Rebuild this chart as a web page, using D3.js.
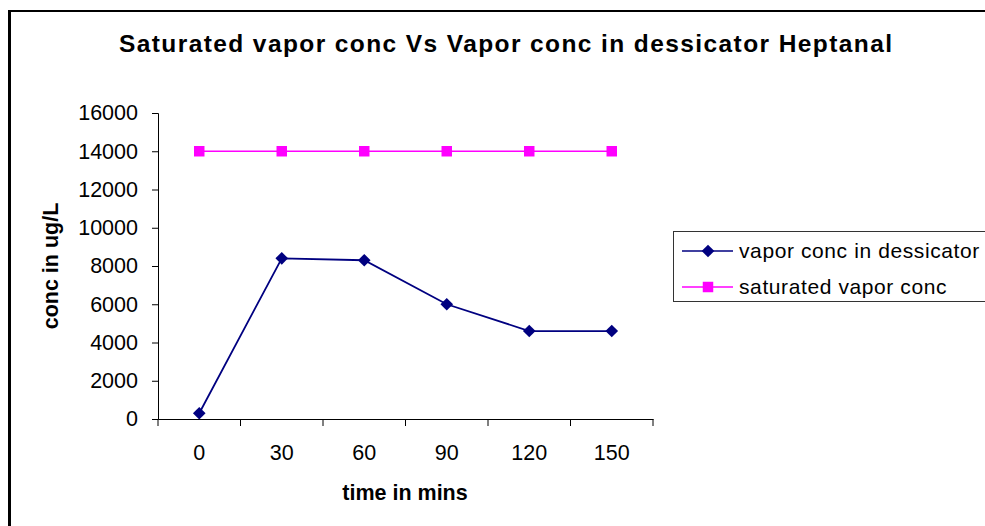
<!doctype html>
<html>
  <head>
    <meta charset="utf-8">
    <title>Saturated vapor conc Vs Vapor conc in dessicator Heptanal</title>
    <script src="https://cdnjs.cloudflare.com/ajax/libs/d3/7.8.5/d3.min.js"></script>
    <style>
      body { margin: 0; background: #fff; }
      svg { display: block; font-family: "Liberation Sans", Arial, sans-serif; }
    </style>
  </head>
  <body>
    <div id="chart"></div>
    <script>
      // data
      const times = ["0", "30", "60", "90", "120", "150"];
      const vaporConc = [300, 8400, 8300, 6000, 4600, 4600];
      const saturatedConc = [14000, 14000, 14000, 14000, 14000, 14000];
      const yTicks = [0, 2000, 4000, 6000, 8000, 10000, 12000, 14000, 16000];
      const seriesNames = ["vapor conc in dessicator", "saturated vapor conc"];

      const width = 985, height = 526;
      const svg = d3.select('#chart').append('svg')
        .attr('width', width)
        .attr('height', height);

      // outer frame (only left and top edges are inside the picture)
      svg.append('line')
        .attr('x1', 9.5).attr('x2', 9.5).attr('y1', 10).attr('y2', height)
        .attr('stroke', '#000').attr('stroke-width', 3);
      svg.append('line')
        .attr('x1', 8).attr('x2', width).attr('y1', 11).attr('y2', 11)
        .attr('stroke', '#000').attr('stroke-width', 2);

      const plot = { left: 158, right: 653, top: 113, bottom: 419 };

      const x = d3.scaleBand()
        .domain(times)
        .range([plot.left, plot.right]);

      const y = d3.scaleLinear()
        .domain([0, 16000])
        .range([plot.bottom, plot.top]);

      // title (Excel draws it a bit spread out)
      svg.append('text')
        .attr('x', 119).attr('y', 52)
        .attr('textLength', 773)
        .attr('lengthAdjust', 'spacing')
        .style('font-size', '24.5px')
        .style('font-weight', 'bold')
        .text('Saturated vapor conc Vs Vapor conc in dessicator Heptanal');

      // y axis
      const yAxis = svg.append('g')
        .attr('transform', `translate(${plot.left},0)`)
        .call(d3.axisLeft(y).tickValues(yTicks).tickSize(6).tickPadding(14).tickFormat(d3.format('d')));
      yAxis.select('.domain').attr('stroke', '#000');
      yAxis.selectAll('.tick line').attr('stroke', '#000');
      yAxis.selectAll('.tick text')
        .style('font-size', '21.5px')
        .attr('fill', '#000');

      // x axis, ticks on category boundaries
      const xAxis = svg.append('g')
        .attr('transform', `translate(0,${plot.bottom})`)
        .call(d3.axisBottom(x).tickSize(0).tickPadding(26));
      xAxis.select('.domain').attr('stroke', '#000');
      xAxis.selectAll('.tick text')
        .style('font-size', '21.5px')
        .attr('fill', '#000');
      const bounds = times.map(t => x(t)).concat([x(times[times.length - 1]) + x.bandwidth()]);
      xAxis.selectAll('.bound')
        .data(bounds)
        .join('line')
        .attr('class', 'bound')
        .attr('x1', d => d).attr('x2', d => d)
        .attr('y1', 0).attr('y2', 7)
        .attr('stroke', '#000');

      // axis titles
      svg.append('text')
        .attr('x', 405).attr('y', 500)
        .attr('text-anchor', 'middle')
        .style('font-size', '21.5px')
        .style('font-weight', 'bold')
        .text('time in mins');

      svg.append('text')
        .attr('transform', `translate(58,266) rotate(-90)`)
        .attr('text-anchor', 'middle')
        .style('font-size', '21.5px')
        .style('font-weight', 'bold')
        .text('conc in ug/L');

      const cx = d => x(d) + x.bandwidth() / 2;
      const line = d3.line()
        .x((d, i) => cx(times[i]))
        .y(d => y(d));

      // diamond = square turned 45 degrees
      const square = d3.symbol().type(d3.symbolSquare).size(110);
      const diamond = d3.symbol().type(d3.symbolSquare).size(80);

      // saturated series
      svg.append('path')
        .datum(saturatedConc)
        .attr('d', line)
        .attr('fill', 'none')
        .attr('stroke', '#ff00ff')
        .attr('stroke-width', 1.5);
      svg.selectAll('.sq')
        .data(saturatedConc)
        .join('path')
        .attr('class', 'sq')
        .attr('d', square)
        .attr('transform', (d, i) => `translate(${cx(times[i])},${y(d)})`)
        .attr('fill', '#ff00ff');

      // vapor series
      svg.append('path')
        .datum(vaporConc)
        .attr('d', line)
        .attr('fill', 'none')
        .attr('stroke', '#000080')
        .attr('stroke-width', 1.8);
      svg.selectAll('.dm')
        .data(vaporConc)
        .join('path')
        .attr('class', 'dm')
        .attr('d', diamond)
        .attr('transform', (d, i) => `translate(${cx(times[i])},${y(d)}) rotate(45)`)
        .attr('fill', '#000080');

      // legend
      const legend = svg.append('g');
      legend.append('rect')
        .attr('x', 673.5).attr('y', 231.5)
        .attr('width', 400).attr('height', 70)
        .attr('fill', '#fff')
        .attr('stroke', '#333')
        .attr('stroke-width', 1);
      const colors = ['#000080', '#ff00ff'];
      const shapes = [diamond, square];
      const rows = legend.selectAll('.row')
        .data(seriesNames)
        .join('g')
        .attr('class', 'row')
        .attr('transform', (d, i) => `translate(0,${251 + i * 36})`);
      rows.append('line')
        .attr('x1', 682).attr('x2', 733)
        .attr('stroke', (d, i) => colors[i])
        .attr('stroke-width', 1.5);
      rows.append('path')
        .attr('d', (d, i) => shapes[i]())
        .attr('transform', (d, i) => i === 0 ? 'translate(708,0) rotate(45)' : 'translate(708,0)')
        .attr('fill', (d, i) => colors[i]);
      rows.append('text')
        .attr('x', 739).attr('y', 7)
        .style('font-size', '21px')
        .style('letter-spacing', '0.6px')
        .text(d => d);
    </script>
  </body>
</html>
